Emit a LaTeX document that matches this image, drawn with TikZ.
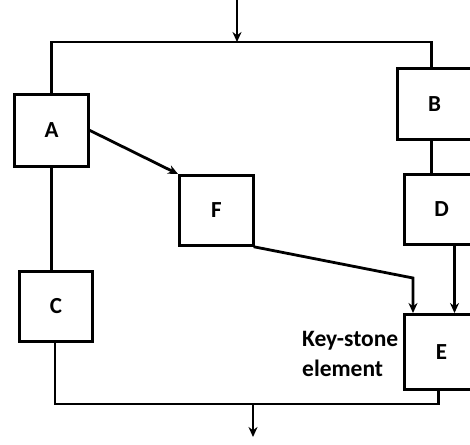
\documentclass[tikz,border=0pt]{standalone}
\usepackage{fontspec}
\setmainfont{Carlito}
\usetikzlibrary{arrows.meta,calc}
\begin{document}
\begin{tikzpicture}[x=1pt,y=-1pt,
  wire/.style={line width=2.8pt,line cap=rect},
  arr/.style={wire,-{Stealth[length=10pt,width=9pt]}},
  box/.style={draw,line width=3pt,inner sep=0pt,anchor=north west,
    font=\fontsize{23}{26}\selectfont\bfseries},
  lbl/.style={inner sep=0pt,align=left,font=\fontsize{23.5}{30}\selectfont\bfseries}]
\clip (0,0) rectangle (470,444);
\useasboundingbox (0,0) rectangle (470,444);
\fill[white] (0,0) rectangle (470,444);
% boxes
\node[box,minimum width=74pt,minimum height=72pt] (A) at (13,93) {A};
\node[box,minimum width=74pt,minimum height=71pt] (B) at (396,67) {B};
\node[box,minimum width=74pt,minimum height=70pt] (F) at (178,174) {F};
\node[box,minimum width=74pt,minimum height=70pt] (D) at (403,173) {D};
\node[box,minimum width=73pt,minimum height=70pt] (C) at (18,270) {C};
\node[box,minimum width=74pt,minimum height=75pt] (E) at (403,313) {E};
\node[lbl,anchor=north west] (ks) at (302,331) {Key-stone\\element};
% helper points
\coordinate (in) at (237,0);
\coordinate (top) at (237,42);
\coordinate (bot) at (253,404);
\coordinate (fe) at (413,278);
% connectors
\draw[wire] (A.north) |- (top) -| ([xshift=-3pt]B.north);
\draw[arr] (in) -- (top);
\draw[wire] (A.south) -- (A.south |- C.north);
\draw[arr] (A.east) -- (F.north west);
\draw[wire] ([xshift=-3pt]B.south) -- ([xshift=-3pt]B.south |- D.north);
\draw[arr] (F.south east) -- (fe) -- (fe |- E.north);
\draw[arr] ([xshift=13pt]D.south) -- ([xshift=13pt]D.south |- E.north);
\draw[wire] ([xshift=-1pt]C.south) |- (bot) -| ([xshift=-3pt]E.south);
\draw[arr] (bot) -- ++(0,33);
\end{tikzpicture}
\end{document}
